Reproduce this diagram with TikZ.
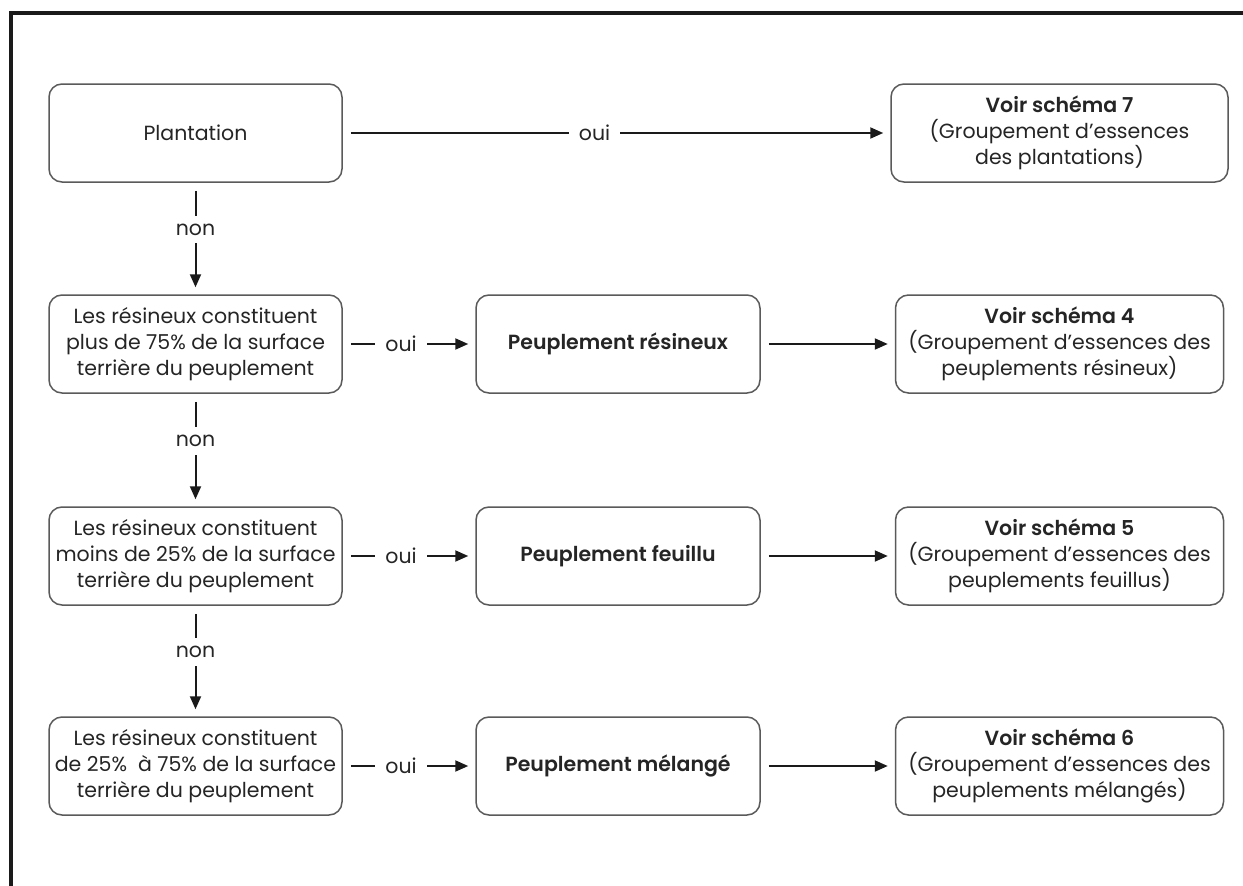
\documentclass[tikz,border=0pt]{standalone}
\usepackage{fontspec}
\setmainfont{Poppins}[BoldFont={Poppins SemiBold}]
\usetikzlibrary{arrows.meta}
\definecolor{txt}{HTML}{252525}
\definecolor{boxc}{HTML}{5A5A5A}
\definecolor{linec}{HTML}{1A1A1A}
\tikzset{
  box/.style={draw=boxc, line width=1.5pt, rounded corners=13pt, align=center,
    text=txt, font=\fontsize{20.5}{26}\selectfont, inner xsep=0pt, inner ysep=2pt,
    minimum height=98pt},
  qbox/.style={box, minimum width=293pt},
  pbox/.style={box, minimum width=284pt, font=\fontsize{20.5}{26}\selectfont\bfseries},
  vbox/.style={box, minimum width=328pt},
  conn/.style={draw=linec, line width=2pt, -{Triangle[length=13pt,width=11pt]},
    shorten <=8pt, shorten >=7pt},
  lab/.style={fill=white, text=txt, font=\fontsize{20.5}{24}\selectfont,
    inner xsep=10pt, inner ysep=6pt},
}
\begin{document}
\begin{tikzpicture}[x=1pt, y=-1pt]
\useasboundingbox (0,0) rectangle (1243,886);
\fill[white] (0,0) rectangle (1243,886);
\draw[line width=4pt, linec] (11,886) -- (11,13) -- (1243,13);

\node[qbox] (plant) at (195.5,133) {Plantation};
\node[box, minimum width=337pt] (v7) at (1059.5,133)
  {\textbf{Voir schéma 7}\\(Groupement d'essences\\des plantations)};

\node[qbox] (q1) at (195.5,344) {Les résineux constituent\\plus de 75\% de la surface\\terrière du peuplement};
\node[pbox] (p1) at (618,344) {Peuplement résineux};
\node[vbox] (v4) at (1059.5,344) {\textbf{Voir schéma 4}\\(Groupement d'essences des\\peuplements résineux)};

\node[qbox] (q2) at (195.5,556) {Les résineux constituent\\moins de 25\% de la surface\\terrière du peuplement};
\node[pbox] (p2) at (618,556) {Peuplement feuillu};
\node[vbox] (v5) at (1059.5,556) {\textbf{Voir schéma 5}\\(Groupement d'essences des\\peuplements feuillus)};

\node[qbox] (q3) at (195.5,766) {Les résineux constituent\\de 25\%\ \ à 75\% de la surface\\terrière du peuplement};
\node[pbox] (p3) at (618,766) {Peuplement mélangé};
\node[vbox] (v6) at (1059.5,766) {\textbf{Voir schéma 6}\\(Groupement d'essences des\\peuplements mélangés)};

\draw[conn] (plant) -- node[lab, pos=0.46] {oui} (v7);
\draw[conn] (q1) -- node[lab, pos=0.44] {oui} (p1);
\draw[conn] (q2) -- node[lab, pos=0.44] {oui} (p2);
\draw[conn] (q3) -- node[lab, pos=0.44] {oui} (p3);
\draw[conn] (p1) -- (v4);
\draw[conn] (p2) -- (v5);
\draw[conn] (p3) -- (v6);
\draw[conn] (plant) -- node[lab, pos=0.42, inner ysep=8pt] {non} (q1);
\draw[conn] (q1) -- node[lab, pos=0.42, inner ysep=8pt] {non} (q2);
\draw[conn] (q2) -- node[lab, pos=0.42, inner ysep=8pt] {non} (q3);
\end{tikzpicture}
\end{document}
